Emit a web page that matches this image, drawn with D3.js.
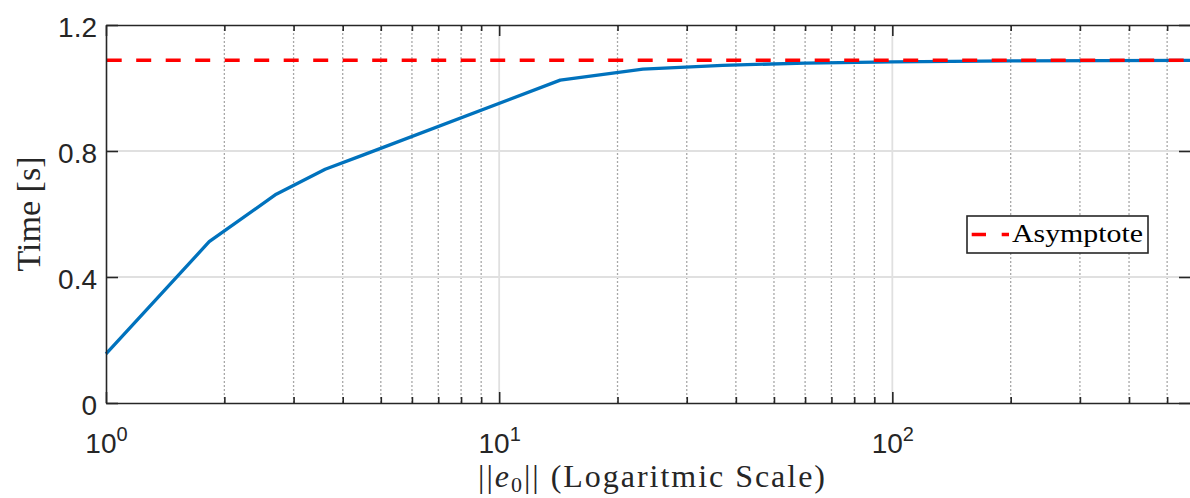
<!DOCTYPE html>
<html>
<head>
<meta charset="utf-8">
<script src="https://cdn.jsdelivr.net/npm/d3@7"></script>
<style>
  html, body { margin: 0; padding: 0; background: #fff; }
  svg { display: block; }
</style>
</head>
<body>
<svg id="chart" width="1190" height="498"></svg>
<script>
// ---- data ----
const errorNorms = [1, 1.83, 2.71, 3.61, 4.5, 14.3, 23.2, 37, 60, 100, 200, 575];
const timeValues = [0.156, 0.512, 0.663, 0.742, 0.787, 1.025, 1.060, 1.072, 1.079, 1.083, 1.086, 1.088];
const asymptoteValue = 1.088;
const xMajorTicks = [1, 10, 100];
const xMinorTicks = [2, 3, 4, 5, 6, 7, 8, 9, 20, 30, 40, 50, 60, 70, 80, 90, 200, 300, 400, 500];
const yTicks = [0, 0.4, 0.8, 1.2];
const yLabels = ["0", "0.4", "0.8", "1.2"];
const xDomain = [1, 575];
const yDomain = [0, 1.2];

// ---- layout ----
const svg = d3.select("#chart");
const L = 106, R = 1191, T = 25, B = 403;
const x = d3.scaleLog().domain(xDomain).range([L, R]);
const y = d3.scaleLinear().domain(yDomain).range([B, T]);
const axisColor = "#262626";
const tickFont = "'Liberation Sans', Arial, Helvetica, sans-serif";
const serif = "'Liberation Serif', 'Times New Roman', serif";

// ---- grid ----
const grid = svg.append("g");
grid.selectAll("line.minor").data(xMinorTicks).enter().append("line")
  .attr("x1", d => x(d)).attr("x2", d => x(d))
  .attr("y1", T).attr("y2", B)
  .attr("stroke", "#a8a8a8").attr("stroke-width", 1.3)
  .attr("stroke-dasharray", "2 2");
grid.selectAll("line.majx").data(xMajorTicks.filter(d => d > 1)).enter().append("line")
  .attr("x1", d => x(d)).attr("x2", d => x(d))
  .attr("y1", T).attr("y2", B)
  .attr("stroke", "#e0e0e0").attr("stroke-width", 1.8);
grid.selectAll("line.majy").data(yTicks.filter(d => d > 0 && d < 1.2)).enter().append("line")
  .attr("x1", L).attr("x2", R)
  .attr("y1", d => y(d)).attr("y2", d => y(d))
  .attr("stroke", "#e0e0e0").attr("stroke-width", 1.8);

// ---- data lines ----
const pts = errorNorms.map((e, i) => [e, timeValues[i]]);
svg.append("path")
  .datum(pts)
  .attr("fill", "none")
  .attr("stroke", "#0072BD")
  .attr("stroke-width", 3.3)
  .attr("stroke-linejoin", "round")
  .attr("d", d3.line().x(d => x(d[0])).y(d => y(d[1])));

svg.append("line")
  .attr("x1", L + 0.7).attr("x2", R)
  .attr("y1", y(asymptoteValue)).attr("y2", y(asymptoteValue))
  .attr("stroke", "#FF0000").attr("stroke-width", 3.6)
  .attr("stroke-dasharray", "15 14.5");

// ---- axes ----
function styleAxis(g) {
  g.select(".domain").attr("stroke", axisColor).attr("stroke-width", 1.6);
  g.selectAll(".tick line").attr("stroke", axisColor).attr("stroke-width", 1.6);
}
const fmtNone = () => "";

// bottom
const gB = svg.append("g").attr("transform", `translate(0,${B})`);
gB.call(d3.axisBottom(x).tickValues(xMinorTicks).tickSize(-6).tickSizeOuter(0).tickFormat(fmtNone)).call(styleAxis);
const gBM = svg.append("g").attr("transform", `translate(0,${B})`);
gBM.call(d3.axisBottom(x).tickValues(xMajorTicks).tickSize(-11).tickSizeOuter(0).tickFormat(fmtNone)).call(styleAxis);
gBM.select(".domain").remove();
gBM.selectAll(".tick text").each(function(d) {
  const t = d3.select(this);
  t.attr("y", 49.5).attr("dy", null)
   .attr("fill", axisColor)
   .style("font-family", tickFont).style("font-size", "28px")
   .attr("text-anchor", "middle");
  t.append("tspan").text("10");
  t.append("tspan").attr("dy", -12).style("font-size", "20px").text(String(Math.round(Math.log10(d))));
});

// top
const gT = svg.append("g").attr("transform", `translate(0,${T})`);
gT.call(d3.axisTop(x).tickValues(xMinorTicks).tickSize(-6).tickSizeOuter(0).tickFormat(fmtNone)).call(styleAxis);
const gTM = svg.append("g").attr("transform", `translate(0,${T})`);
gTM.call(d3.axisTop(x).tickValues(xMajorTicks).tickSize(-11).tickSizeOuter(0).tickFormat(fmtNone)).call(styleAxis);
gTM.select(".domain").remove();

// left
const gL = svg.append("g").attr("transform", `translate(${L},0)`);
gL.call(d3.axisLeft(y).tickValues(yTicks).tickSize(-12).tickSizeOuter(0).tickPadding(9)
  .tickFormat((d, i) => yLabels[i])).call(styleAxis);
gL.selectAll(".tick text")
  .attr("dy", null).attr("y", 11.5)
  .attr("fill", axisColor)
  .style("font-family", tickFont).style("font-size", "28px");

// right
const gR = svg.append("g").attr("transform", `translate(${R},0)`);
gR.call(d3.axisRight(y).tickValues(yTicks).tickSize(-12).tickSizeOuter(0).tickFormat(fmtNone)).call(styleAxis);

// ---- axis titles ----
const xl = svg.append("text")
  .attr("x", 478).attr("y", 487)
  .attr("fill", axisColor)
  .style("font-family", serif).style("font-size", "32px")
  .attr("textLength", 347).attr("lengthAdjust", "spacing");
xl.append("tspan").text("||");
xl.append("tspan").style("font-style", "italic").text("e");
xl.append("tspan").attr("dy", 5).style("font-size", "22px").text("0");
xl.append("tspan").attr("dy", -5).text("||");
xl.append("tspan").text(" (Logaritmic Scale)");

svg.append("text")
  .attr("transform", `translate(40,${(T + B) / 2}) rotate(-90)`)
  .attr("text-anchor", "middle")
  .attr("fill", axisColor)
  .style("font-family", serif).style("font-size", "34px")
  .text("Time [s]");

// ---- legend ----
const lg = svg.append("g");
lg.append("rect")
  .attr("x", 967).attr("y", 216).attr("width", 181).attr("height", 37)
  .attr("fill", "#fff").attr("stroke", axisColor).attr("stroke-width", 1.6);
lg.append("line")
  .attr("x1", 971.7).attr("x2", 1009).attr("y1", 234.5).attr("y2", 234.5)
  .attr("stroke", "#FF0000").attr("stroke-width", 3.6)
  .attr("stroke-dasharray", "14.3 15.7");
lg.append("text")
  .attr("x", 1012).attr("y", 241.5)
  .attr("fill", "#000")
  .style("font-family", serif).style("font-size", "25px")
  .attr("textLength", 131).attr("lengthAdjust", "spacingAndGlyphs")
  .text("Asymptote");
</script>
</body>
</html>
